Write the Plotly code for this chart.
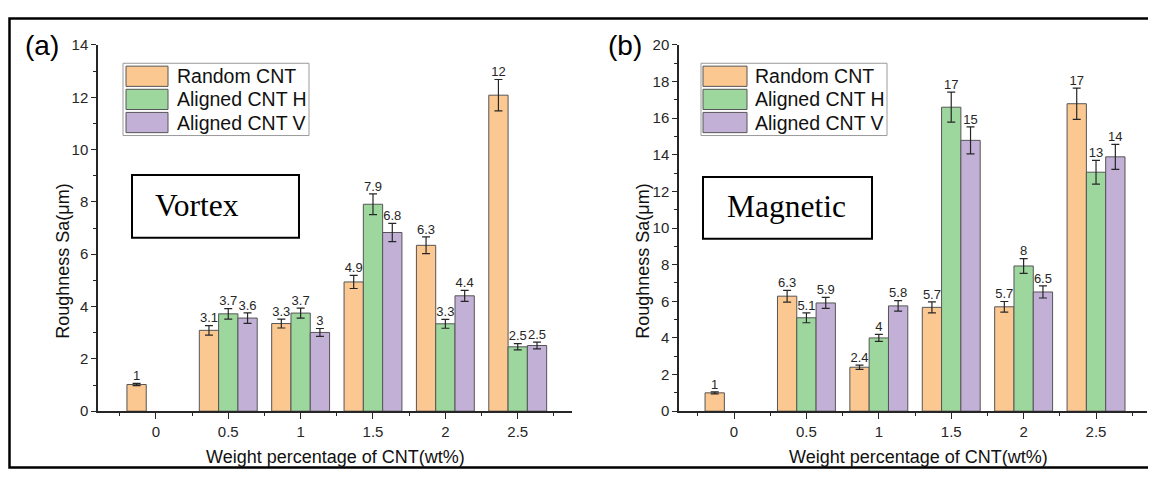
import plotly.graph_objects as go

# The page keeps an 8px body margin, so the figure is drawn 16px smaller
# than the 1156x485 window and all layout pixel positions are shifted by 8.
OFF = 8
W, H = 1156 - 2 * OFF, 485 - 2 * OFF

# ---------------- data ----------------
categories = [0, 0.5, 1, 1.5, 2, 2.5]
series_names = ["Random CNT", "Aligned CNT H", "Aligned CNT V"]
colors = ["#FCC892", "#9DD79E", "#C2B0D7"]

# Panel (a) Vortex
vortex_random = [1.02, 3.09, 3.35, 4.94, 6.34, 12.08]
vortex_h = [None, 3.72, 3.75, 7.91, 3.34, 2.46]
vortex_v = [None, 3.56, 3.01, 6.83, 4.41, 2.51]
vortex_random_err = [0.04, 0.18, 0.17, 0.25, 0.32, 0.60]
vortex_h_err = [None, 0.20, 0.19, 0.40, 0.17, 0.12]
vortex_v_err = [None, 0.20, 0.15, 0.35, 0.21, 0.13]
vortex_random_lbl = ["1", "3.1", "3.3", "4.9", "6.3", "12"]
vortex_h_lbl = [None, "3.7", "3.7", "7.9", "3.3", "2.5"]
vortex_v_lbl = [None, "3.6", "3", "6.8", "4.4", "2.5"]

# Panel (b) Magnetic
magnetic_random = [1.0, 6.28, 2.40, 5.67, 5.70, 16.79]
magnetic_h = [None, 5.10, 4.00, 16.60, 7.93, 13.05]
magnetic_v = [None, 5.91, 5.75, 14.79, 6.51, 13.89]
magnetic_random_err = [0.05, 0.32, 0.12, 0.30, 0.29, 0.85]
magnetic_h_err = [None, 0.27, 0.19, 0.82, 0.40, 0.65]
magnetic_v_err = [None, 0.30, 0.29, 0.74, 0.33, 0.68]
magnetic_random_lbl = ["1", "6.3", "2.4", "5.7", "5.7", "17"]
magnetic_h_lbl = [None, "5.1", "4", "17", "8", "13"]
magnetic_v_lbl = [None, "5.9", "5.8", "15", "6.5", "14"]

x_title = "Weight percentage of CNT(wt%)"
y_title = "Roughness Sa(μm)"
panel_tags = ["(a)", "(b)"]
box_texts = ["Vortex", "Magnetic"]

SANS = "Liberation Sans, Arial, sans-serif"
SERIF = "Liberation Serif, Times New Roman, serif"
AX = "#262626"


def px(x):
    return min(max((x - OFF) / W, 0), 1)


def py(y):
    return min(max(1 - (y - OFF) / H, 0), 1)


def px_free(x):
    return (x - OFF) / W


def py_free(y):
    return 1 - (y - OFF) / H


fig = go.Figure()

BARGAP = 0.2
step = 0.5
bar_w = step * (1 - BARGAP) / 3
offsets = [-bar_w, 0, bar_w]

panels = [
    dict(vals=[vortex_random, vortex_h, vortex_v],
         errs=[vortex_random_err, vortex_h_err, vortex_v_err],
         lbls=[vortex_random_lbl, vortex_h_lbl, vortex_v_lbl],
         xa="x", ya="y"),
    dict(vals=[magnetic_random, magnetic_h, magnetic_v],
         errs=[magnetic_random_err, magnetic_h_err, magnetic_v_err],
         lbls=[magnetic_random_lbl, magnetic_h_lbl, magnetic_v_lbl],
         xa="x2", ya="y2"),
]

for p in panels:
    for i in range(3):
        fig.add_trace(go.Bar(
            x=categories, y=p["vals"][i], name=series_names[i],
            marker=dict(color=colors[i], line=dict(color="#555555", width=1)),
            error_y=dict(type="data", array=[e if e is not None else 0 for e in p["errs"][i]],
                         color=AX, thickness=1.2, width=4),
            xaxis=p["xa"], yaxis=p["ya"], showlegend=False, offsetgroup=str(i),
        ))
    for i in range(3):
        xs, ys, ts = [], [], []
        for c, v, e, t in zip(categories, p["vals"][i], p["errs"][i], p["lbls"][i]):
            if v is None:
                continue
            xs.append(c + offsets[i])
            ys.append(v + e)
            ts.append(t)
        fig.add_trace(go.Scatter(
            x=xs, y=ys, text=ts, mode="text", textposition="top center",
            textfont=dict(family=SANS, size=13, color=AX),
            xaxis=p["xa"], yaxis=p["ya"], showlegend=False, hoverinfo="skip",
        ))

# geometry (window pixels)
dom_a = (98, 572)
dom_b = (679, 1147)
y_top, y_bot = 37, 417
ydom = [py(y_bot), py(y_top)]
xr_a = [-0.4, 2.875]
xr_b = [-0.38, 2.852]

xcommon = dict(
    tickmode="array", tickvals=categories, ticktext=[str(c) for c in categories],
    ticks="outside", ticklen=6, tickwidth=1.2, tickcolor=AX,
    showline=True, linecolor=AX, linewidth=1.5, showgrid=False, zeroline=False,
    tickfont=dict(family=SANS, size=15, color=AX),
    minor=dict(tickmode="array", tickvals=[c - 0.25 for c in categories] + [categories[-1] + 0.25],
               ticks="outside", ticklen=3, tickwidth=1.2, tickcolor=AX),
)
ycommon = dict(
    ticks="outside", ticklen=5, tickwidth=1.2, tickcolor=AX, dtick=2, tick0=0,
    showline=True, linecolor=AX, linewidth=1.5, showgrid=False, zeroline=False,
    tickfont=dict(family=SANS, size=15, color=AX),
    minor=dict(dtick=1, ticks="outside", ticklen=3, tickwidth=1.2, tickcolor=AX),
)


def mirror_x(rng, overlay, anchor):
    d = dict(xcommon)
    d.update(overlaying=overlay, side="top", anchor=anchor, range=rng, showticklabels=False,
             ticks="inside",
             minor=dict(tickmode="array", tickvals=xcommon["minor"]["tickvals"],
                        ticks="inside", ticklen=3, tickwidth=1.2, tickcolor=AX))
    return d


def mirror_y(rng, overlay, anchor):
    d = dict(ycommon)
    d.update(overlaying=overlay, side="right", anchor=anchor, range=rng, showticklabels=False,
             ticks="inside",
             minor=dict(dtick=1, ticks="inside", ticklen=3, tickwidth=1.2, tickcolor=AX))
    return d


fig.update_layout(
    width=W, height=H, margin=dict(l=0, r=0, t=0, b=0),
    paper_bgcolor="white", plot_bgcolor="white",
    barmode="group", bargap=BARGAP, bargroupgap=0,
    showlegend=False,
    xaxis=dict(xcommon, domain=[px(dom_a[0]), px(dom_a[1])], range=xr_a, anchor="y"),
    yaxis=dict(ycommon, domain=ydom, range=[0, 14], anchor="x"),
    xaxis2=dict(xcommon, domain=[px(dom_b[0]), px(dom_b[1])], range=xr_b, anchor="y2"),
    yaxis2=dict(ycommon, domain=ydom, range=[0, 20], anchor="x2"),
    xaxis3=mirror_x(xr_a, "x", "y"),
    yaxis3=mirror_y([0, 14], "y", "x"),
    xaxis4=mirror_x(xr_b, "x2", "y2"),
    yaxis4=mirror_y([0, 20], "y2", "x2"),
)

shapes = []
annotations = []

# outer frame (right side runs past the image edge)
shapes.append(dict(type="rect", xref="paper", yref="paper",
                   x0=px_free(9.5), x1=px_free(1175), y0=py_free(475.5), y1=py_free(9.5),
                   line=dict(color="black", width=2.5)))

legend_cfg = [
    dict(box=(123, 56, 309, 131), sw_x=(126, 168), txt_x=175),
    dict(box=(701, 56, 887, 131), sw_x=(703, 747), txt_x=753),
]
sw_rows = [(59, 80), (83, 104), (107, 128)]

text_boxes = [
    dict(box=(132, 172, 299, 237), tx=153, ty=204),
    dict(box=(703, 174, 872, 238), tx=725, ty=205),
]

tag_pos = [(42, 38), (625, 38)]
xtitle_pos = [(335, 465), (918, 465)]
ytitle_pos = [(63, 262), (643, 262)]

for k in range(2):
    lc = legend_cfg[k]
    bx0, by0, bx1, by1 = lc["box"]
    shapes.append(dict(type="rect", xref="paper", yref="paper",
                       x0=px(bx0), x1=px(bx1), y0=py(by1), y1=py(by0),
                       line=dict(color="#9a9a9a", width=1), fillcolor="white", layer="above"))
    for i, (r0, r1) in enumerate(sw_rows):
        shapes.append(dict(type="rect", xref="paper", yref="paper",
                           x0=px(lc["sw_x"][0]), x1=px(lc["sw_x"][1]), y0=py(r1), y1=py(r0),
                           line=dict(color="#555555", width=1), fillcolor=colors[i], layer="above"))
        annotations.append(dict(xref="paper", yref="paper", x=px(lc["txt_x"]), y=py((r0 + r1) / 2),
                                text=series_names[i], showarrow=False, xanchor="left", yanchor="middle",
                                font=dict(family=SANS, size=19.5, color="#111")))
    tb = text_boxes[k]
    tx0, ty0, tx1, ty1 = tb["box"]
    shapes.append(dict(type="rect", xref="paper", yref="paper",
                       x0=px(tx0), x1=px(tx1), y0=py(ty1), y1=py(ty0),
                       line=dict(color="black", width=2), fillcolor="white", layer="above"))
    annotations.append(dict(xref="paper", yref="paper", x=px(tb["tx"]), y=py(tb["ty"]),
                            text=box_texts[k], showarrow=False, xanchor="left", yanchor="middle",
                            font=dict(family=SERIF, size=31.5, color="black")))
    annotations.append(dict(xref="paper", yref="paper", x=px(tag_pos[k][0]), y=py(tag_pos[k][1]),
                            text=panel_tags[k], showarrow=False, xanchor="center", yanchor="middle",
                            font=dict(family=SANS, size=28, color="black")))
    annotations.append(dict(xref="paper", yref="paper", x=px(xtitle_pos[k][0]), y=py(xtitle_pos[k][1]),
                            text=x_title, showarrow=False, xanchor="center", yanchor="middle",
                            font=dict(family=SANS, size=18, color="#111")))
    annotations.append(dict(xref="paper", yref="paper", x=px(ytitle_pos[k][0]), y=py(ytitle_pos[k][1]),
                            text=y_title, showarrow=False, xanchor="center", yanchor="middle",
                            textangle=-90, font=dict(family=SANS, size=18, color="#111")))

fig.update_layout(shapes=shapes, annotations=annotations)

fig.write_html("out.html", config={"displayModeBar": False})
